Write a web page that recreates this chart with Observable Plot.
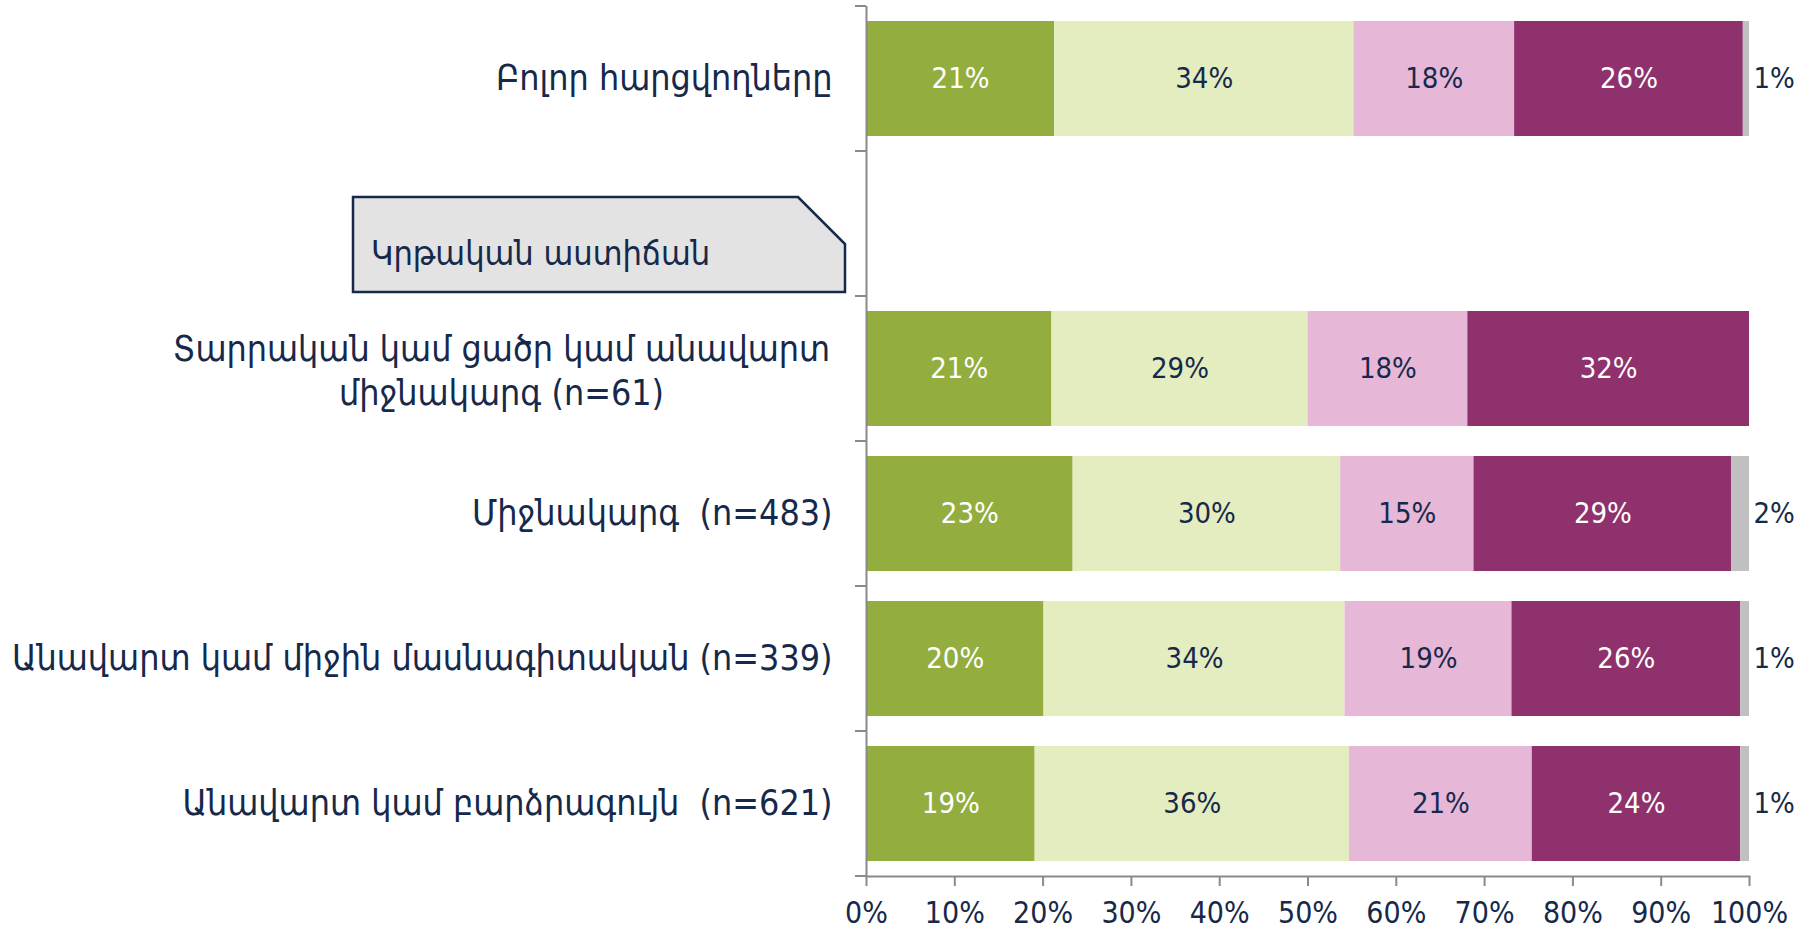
<!DOCTYPE html>
<html><head><meta charset="utf-8">
<script src="https://cdn.jsdelivr.net/npm/d3@7"></script>
<script src="https://cdn.jsdelivr.net/npm/@observablehq/plot@0.6"></script>
<style>body{margin:0;background:#fff}</style>
</head><body><div id="chart"></div>
<script>
// ---- data ----
const categories = [
  "Բոլոր հարցվողները",
  "Կրթական աստիճան",
  "Տարրական կամ ցածր կամ անավարտ\nմիջնակարգ (n=61)",
  "Միջնակարգ  (n=483)",
  "Անավարտ կամ միջին մասնագիտական (n=339)",
  "Անավարտ կամ բարձրագույն  (n=621)"
];
const headerCategory = "Կրթական աստիճան";
const series = ["s1", "s2", "s3", "s4", "s5"];
const s1 = [21.3, null, 21.0, 23.4, 20.1, 19.1];
const s2 = [33.9, null, 29.0, 30.3, 34.1, 35.6];
const s3 = [18.2, null, 18.1, 15.1, 18.9, 20.7];
const s4 = [25.9, null, 31.9, 29.2, 25.9, 23.6];
const s5 = [0.7, null, 0.0, 2.0, 1.0, 1.0];
const xTicks = [0, 10, 20, 30, 40, 50, 60, 70, 80, 90, 100];
const colors = ["#93AE3F", "#E4EDC0", "#E6B7D6", "#8F316C", "#C0C0C0"];

const navy = "#16294A";
const axisGray = "#8A8A8A";
const numFont = "'DejaVu Sans Condensed', 'DejaVu Sans', sans-serif";
const armFont = "'DejaVu Sans Condensed', 'DejaVu Sans', sans-serif";

const seriesValues = [s1, s2, s3, s4, s5];
const table = [];
categories.forEach((cat, i) => {
  seriesValues.forEach((vals, j) => {
    if (vals[i] != null) table.push({cat, series: series[j], value: vals[i]});
  });
});
const fmt = v => Math.round(v) + "%";
const rowLabels = categories.filter(c => c !== headerCategory).map(c => ({cat: c, label: c, multi: c.includes("\n")}));

const chart = Plot.plot({
  width: 1808, height: 933,
  marginLeft: 866, marginRight: 59, marginTop: 6, marginBottom: 57,
  style: {background: "#fff"},
  x: {domain: [0, 100], axis: null},
  y: {domain: categories, paddingInner: 0.21, paddingOuter: 0.105, axis: null},
  color: {domain: series, range: colors},
  marks: [
    Plot.barX(table, {x: "value", y: "cat", fill: "series"}),
    Plot.text(table, Plot.stackX({x: "value", y: "cat",
      text: d => (d.series === "s1" || d.series === "s4") && d.value > 0 ? fmt(d.value) : null,
      fill: "white", fontSize: 29, fontFamily: numFont})),
    Plot.text(table, Plot.stackX({x: "value", y: "cat",
      text: d => (d.series === "s2" || d.series === "s3") && d.value > 0 ? fmt(d.value) : null,
      fill: navy, fontSize: 29, fontFamily: numFont})),
    Plot.text(table, Plot.stackX2({x: "value", y: "cat",
      text: d => d.series === "s5" && d.value > 0 ? fmt(d.value) : null,
      fill: navy, fontSize: 29, fontFamily: numFont, textAnchor: "start", dx: 4})),
    Plot.ruleX([0], {stroke: axisGray, strokeWidth: 2}),
    Plot.frame({anchor: "bottom", stroke: axisGray, strokeWidth: 2}),
    Plot.axisX({ticks: xTicks, tickFormat: d => d + "%", tickSize: 10, tickPadding: 15, label: null,
      stroke: axisGray, strokeWidth: 2, strokeOpacity: 1, fill: navy,
      fontSize: 30, fontFamily: numFont}),
    Plot.text(rowLabels.filter(d => !d.multi), {y: "cat", text: "label", frameAnchor: "left",
      textAnchor: "end", dx: -34, fill: navy, fontSize: 35.5, fontFamily: armFont}),
    Plot.text(rowLabels.filter(d => d.multi), {y: "cat", text: "label", frameAnchor: "left",
      textAnchor: "middle", dx: -365, lineHeight: 1.25, fill: navy, fontSize: 35.5, fontFamily: armFont})
  ]
});

// boundary ticks of the y axis and the section header box
const svg = d3.select(chart);
const ys = chart.scale("y");
const step = ys.step, bw = ys.bandwidth;
const x0 = chart.scale("x").apply(0);
const bounds = categories.map(c => ys.apply(c) - (step - bw) / 2);
bounds.push(bounds[bounds.length - 1] + step);
svg.append("g").selectAll("line").data(bounds).join("line")
  .attr("x1", x0 - 11).attr("x2", x0).attr("y1", d => d).attr("y2", d => d)
  .attr("stroke", axisGray).attr("stroke-width", 2);

const hb = ys.apply(headerCategory) - (step - bw) / 2; // band top
const L = x0 - 513, R = x0 - 21, T = hb + 46, B = hb + 141, C = 47;
svg.insert("path", "g")
  .attr("d", `M${L},${T}H${R - C}L${R},${T + C}V${B}H${L}Z`)
  .attr("fill", "#E3E3E3").attr("stroke", navy).attr("stroke-width", 2.5);
svg.append("text").attr("x", L + 18).attr("y", hb + 104)
  .attr("dominant-baseline", "middle").attr("text-anchor", "start")
  .attr("fill", navy).attr("font-size", 34).attr("font-family", armFont)
  .text(headerCategory);

document.getElementById("chart").appendChild(chart);
</script>
</body></html>
